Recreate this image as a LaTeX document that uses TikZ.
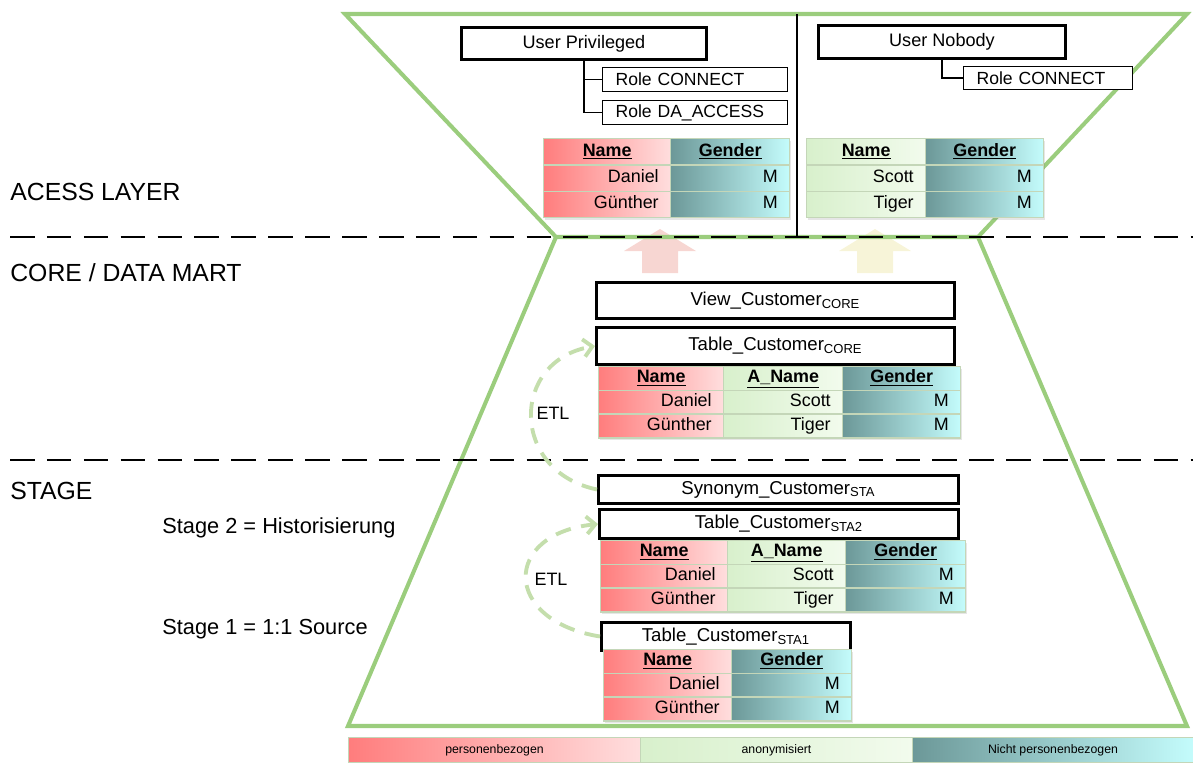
\documentclass[tikz,border=0pt]{standalone}
\usepackage{fontspec}
\setmainfont{Liberation Sans}
\usetikzlibrary{arrows.meta,shadows}

\definecolor{layergreen}{RGB}{155,205,125}
\definecolor{etlgreen}{RGB}{196,222,172}
\definecolor{persL}{RGB}{255,125,125}
\definecolor{persR}{RGB}{255,222,222}
\definecolor{anonL}{RGB}{216,240,204}
\definecolor{anonR}{RGB}{242,251,237}
\definecolor{nonpL}{RGB}{108,152,152}
\definecolor{nonpR}{RGB}{196,252,252}
\definecolor{cellline}{RGB}{196,214,184}
\definecolor{arrowpink}{RGB}{247,214,210}
\definecolor{arrowyellow}{RGB}{247,244,216}

\tikzset{
	pers/.style={left color=persL, right color=persR},
	anon/.style={left color=anonL, right color=anonR},
	nonp/.style={left color=nonpL, right color=nonpR},
	cell/.style={draw=cellline, line width=0.8pt, anchor=north west, inner xsep=0.24cm, inner ysep=0pt, align=right,
		execute at begin node=\strut,
		font=\fontsize{10.2}{12}\selectfont, drop shadow={opacity=0.2, shadow xshift=1pt, shadow yshift=-1.5pt}},
	headcell/.style={cell, align=center, font=\fontsize{10.2}{12}\selectfont\bfseries},
	objbox/.style={draw, line width=1.7pt, fill=white, anchor=north west, inner sep=0pt, font=\fontsize{10.6}{13}\selectfont},
	rolebox/.style={draw, line width=0.7pt, fill=white, anchor=north west, inner xsep=0.26cm, inner ysep=0pt, align=left,
		font=\fontsize{10}{12}\selectfont},
	connector/.style={line width=0.8pt},
	layerline/.style={layergreen, line width=2.3pt, line join=miter},
	layername/.style={anchor=west, inner xsep=0pt, font=\fontsize{14.1}{16}\selectfont},
	stagename/.style={anchor=west, inner xsep=0pt, font=\fontsize{12.4}{14}\selectfont},
	etl/.style={etlgreen, line width=2.2pt, dash pattern=on 9pt off 6pt, -{Straight Barb[length=5pt,width=10pt]}},
	legend/.style={draw=cellline, line width=0.6pt, anchor=north west, inner sep=0pt, minimum height=0.5cm, font=\fontsize{7}{8}\selectfont}
}

\begin{document}
\begin{tikzpicture}[x=0.02cm, y=-0.02cm]

	% coordinates are pixels of the original slide, y grows downwards
	\useasboundingbox (0,0) rectangle (1193,762);

	\def\topY{14}
	\def\accessY{237}
	\def\stageY{460}
	\def\bottomY{726}

	%block arrows from the views up to the users
	\foreach \c/\colour in {660/arrowpink, 875/arrowyellow}
   {
		\fill[\colour] (\c-18,273) -- (\c-18,251) -- (\c-36,251) -- (\c,229) -- (\c+36,251) -- (\c+18,251) -- (\c+18,273) -- cycle;
   }

	%layer borders
	\draw[layerline] (345,\topY) -- (1187,\topY) -- (978,\accessY) -- (556,\accessY) -- cycle;
	\draw[layerline] (556,\accessY) -- (348,\bottomY) -- (1187,\bottomY) -- (978,\accessY);
	\draw[line width=0.8pt] (797,\topY) -- (797,\accessY);
	\foreach \ypos in {\accessY, \stageY}
   {
		\draw[line width=1.4pt, dash pattern=on 14pt off 7pt] (10,\ypos) -- (1193,\ypos);
   }

	%layer names
	\node[layername] (lblAccess) at (10,192) {ACESS LAYER};
	\node[layername] (lblCore) at (10,273) {CORE / DATA MART};
	\node[layername] (lblStage) at (10,491) {STAGE};
	\node[stagename] (lblHist) at (162,528) {Stage 2 = Historisierung};
	\node[stagename] (lblSrc) at (162,629) {Stage 1 = 1:1 Source};

	%users and their roles
	\node[objbox, minimum width=4.9cm, minimum height=0.64cm, font=\fontsize{10.3}{12}\selectfont] (uPriv) at (460,26) {User Privileged};
	\node[rolebox, text width=3.18cm, minimum height=0.48cm] (rPrivCon) at (602,67) {Role CONNECT};
	\node[rolebox, text width=3.18cm, minimum height=0.48cm] (rPrivDa) at (602,100) {Role DA\_ACCESS};
	\node[objbox, minimum width=4.94cm, minimum height=0.66cm, font=\fontsize{10.3}{12}\selectfont] (uNobody) at (817,24) {User Nobody};
	\node[rolebox, text width=2.86cm, minimum height=0.46cm] (rNobCon) at (963,66) {Role CONNECT};

	\draw[connector] (uPriv.south) |- (rPrivCon.west);
	\draw[connector] (uPriv.south) |- (rPrivDa.west);
	\draw[connector] (uNobody.south) |- (rNobCon.west);

	%database objects
	\node[objbox, minimum width=7.16cm, minimum height=0.72cm] (vCore) at (595,281) {View\_Customer\textsubscript{CORE}};
	\node[objbox, minimum width=7.16cm, minimum height=0.74cm] (tCore) at (595,326) {Table\_Customer\textsubscript{CORE}};
	\node[objbox, minimum width=7.2cm, minimum height=0.56cm] (synSta) at (597,474) {Synonym\_Customer\textsubscript{STA}};
	\node[objbox, minimum width=7.18cm, minimum height=0.58cm] (tSta2) at (598,508) {Table\_Customer\textsubscript{STA2}};
	\node[objbox, minimum width=4.98cm, minimum height=0.56cm] (tSta1) at (600,621) {Table\_Customer\textsubscript{STA1}};

	%tables: table/column/kind/x/y/width/row height/header/first row/second row
	\foreach \tab/\col/\kind/\x/\y/\w/\h/\head/\one/\two in {
		priv/a/pers/543/138/127/26.3/Name/Daniel/Günther,
		priv/b/nonp/670/138/119/26.3/Gender/M/M,
		nob/a/anon/806/138/119/26.3/Name/Scott/Tiger,
		nob/b/nonp/925/138/118/26.3/Gender/M/M,
		core/a/pers/598/366/125/23.7/Name/Daniel/Günther,
		core/b/anon/723/366/119/23.7/A\_Name/Scott/Tiger,
		core/c/nonp/842/366/118/23.7/Gender/M/M,
		sta2/a/pers/600/540/127/23.7/Name/Daniel/Günther,
		sta2/b/anon/727/540/118/23.7/A\_Name/Scott/Tiger,
		sta2/c/nonp/845/540/120/23.7/Gender/M/M,
		sta1/a/pers/603/649/128/23.7/Name/Daniel/Günther,
		sta1/b/nonp/731/649/120/23.7/Gender/M/M}
   {
		\pgfmathsetmacro\tw{(\w-24)*0.02}
		\pgfmathsetmacro\rh{\h*0.02}
		\node[headcell, \kind, text width=\tw cm, minimum height=\rh cm] (\tab-h-\col) at (\x,\y) {\underline{\head}};
		\node[cell, \kind, text width=\tw cm, minimum height=\rh cm] (\tab-1-\col) at (\x,\y+\h) {\one};
		\node[cell, \kind, text width=\tw cm, minimum height=\rh cm] (\tab-2-\col) at (\x,\y+2*\h) {\two};
   }

	%ETL loads
	\draw[etl] (synSta.west) .. controls +(-87,-18) and +(-85,15) .. (tCore.west);
	\draw[etl] (tSta1.west) .. controls +(-98,-16) and +(-96,10) .. (tSta2.west);
	\node[font=\fontsize{10.2}{12}\selectfont] (etlCore) at (553,413) {ETL};
	\node[font=\fontsize{10.2}{12}\selectfont] (etlSta) at (551,579) {ETL};

	%legend
	\node[legend, pers, minimum width=5.84cm] (legPers) at (348,737) {personenbezogen};
	\node[legend, anon, minimum width=5.44cm] (legAnon) at (640,737) {anonymisiert};
	\node[legend, nonp, minimum width=5.62cm] (legNonp) at (912,737) {Nicht personenbezogen};

\end{tikzpicture}
\end{document}
